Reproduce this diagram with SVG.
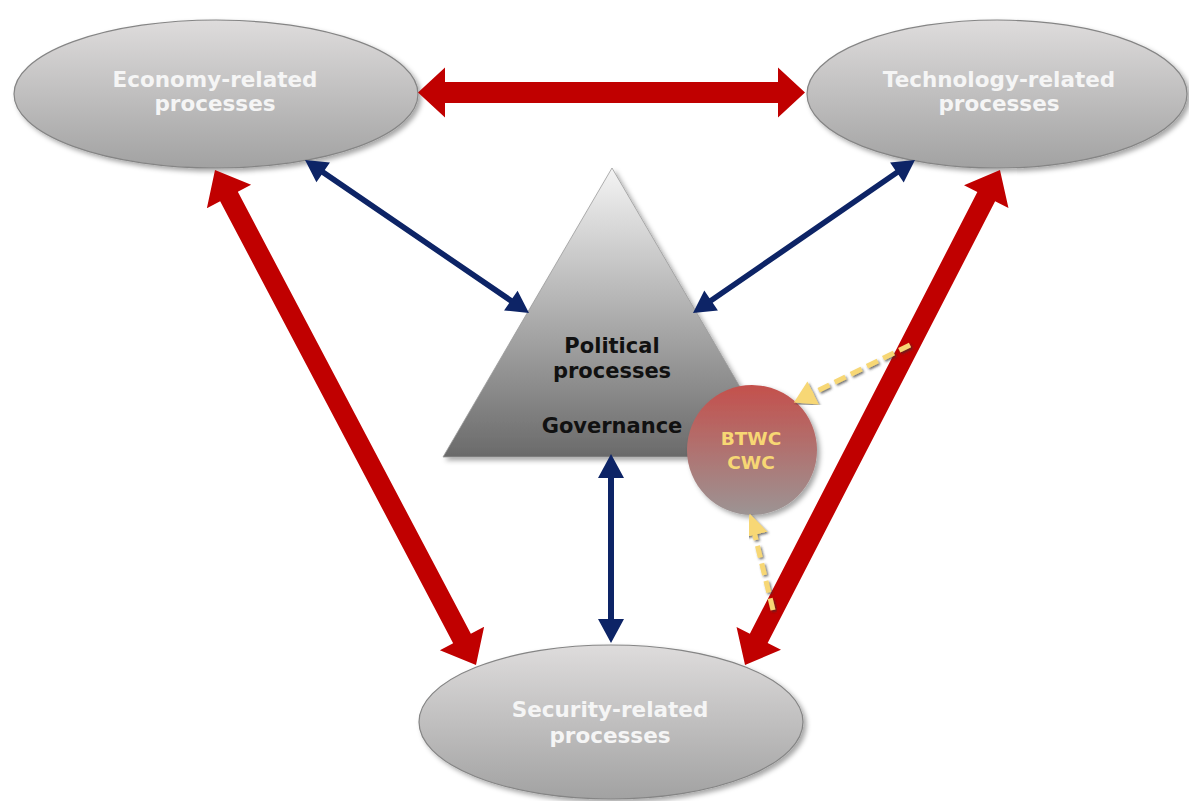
<svg xmlns="http://www.w3.org/2000/svg" width="1189" height="801" viewBox="0 0 1189 801">
<defs>
<linearGradient id="gEll" x1="0" y1="0" x2="0" y2="1">
<stop offset="0" stop-color="#dedcdc"/>
<stop offset="1" stop-color="#a2a2a2"/>
</linearGradient>
<linearGradient id="gTri" x1="0" y1="0" x2="0" y2="1">
<stop offset="0" stop-color="#f4f4f4"/>
<stop offset="1" stop-color="#6a6a6a"/>
</linearGradient>
<linearGradient id="gCirc" x1="0" y1="0" x2="0" y2="1">
<stop offset="0" stop-color="#c4504c"/>
<stop offset="1" stop-color="#9c9494"/>
</linearGradient>
<filter id="shadow" x="-10%" y="-10%" width="125%" height="130%">
<feDropShadow dx="3" dy="3" stdDeviation="2.5" flood-color="#000" flood-opacity="0.35"/>
</filter>
<filter id="ysh" x="-20%" y="-20%" width="140%" height="140%">
<feDropShadow dx="1.5" dy="1.5" stdDeviation="1" flood-color="#333" flood-opacity="0.7"/>
</filter>
<marker id="yhead" markerUnits="userSpaceOnUse" markerWidth="24" markerHeight="28" viewBox="0 -13 22 26" refX="4" refY="0" orient="auto">
<path d="M0,-12 L20,0 L0,12 z" fill="#f7d774"/>
</marker>
<style>
.ell{fill:url(#gEll);stroke:#858585;stroke-width:1.2;filter:url(#shadow)}
.lbl{font-family:"DejaVu Sans",Verdana,sans-serif;font-weight:bold;font-size:21.5px;fill:#f5f5f5;text-anchor:middle}
.blk{font-family:"DejaVu Sans",Verdana,sans-serif;font-weight:bold;font-size:21px;fill:#111;text-anchor:middle}
.ylw{font-family:"DejaVu Sans",Verdana,sans-serif;font-weight:bold;font-size:18.5px;fill:#f7d774;text-anchor:middle}
.red{fill:#c00000}
.blue{fill:#0d2466}
.dash{fill:none;stroke:#f7d774;stroke-width:5;stroke-dasharray:12 6;marker-end:url(#yhead);filter:url(#ysh)}
</style>
</defs>

<g id="node-economy">
<ellipse class="ell" cx="216" cy="94" rx="202" ry="74"/>
<text class="lbl" x="215" y="87">Economy-related</text>
<text class="lbl" x="215" y="111">processes</text>
</g>

<g id="node-technology">
<ellipse class="ell" cx="997" cy="94" rx="190" ry="74"/>
<text class="lbl" x="999" y="87">Technology-related</text>
<text class="lbl" x="999" y="111">processes</text>
</g>

<g id="node-security">
<ellipse class="ell" cx="611" cy="722" rx="192" ry="77"/>
<text class="lbl" x="610" y="717">Security-related</text>
<text class="lbl" x="610" y="743">processes</text>
</g>

<g id="node-political">
<polygon points="612,168 781,457 443,457" fill="url(#gTri)" stroke="#9a9a9a" stroke-width="0.8" filter="url(#shadow)"/>
<text class="blk" x="612" y="353">Political</text>
<text class="blk" x="612" y="378">processes</text>
<text class="blk" x="612" y="433">Governance</text>
</g>

<g id="connectors">
<polygon class="red" transform="translate(611.5,92.5)" points="-193.5,0 -166.5,-25 -166.5,-10.5 166.5,-10.5 166.5,-25 193.5,0 166.5,25 166.5,10.5 -166.5,10.5 -166.5,25"/>
<polygon class="red" transform="translate(345.5,417.5) rotate(62.2)" points="-279.8,0 -249.8,-25 -249.8,-10 249.8,-10 249.8,-25 279.8,0 249.8,25 249.8,10 -249.8,10 -249.8,25"/>
<polygon class="red" transform="translate(872.5,417.5) rotate(117.25)" points="-278.4,0 -248.4,-25 -248.4,-10 248.4,-10 248.4,-25 278.4,0 248.4,25 248.4,10 -248.4,10 -248.4,25"/>
<polygon class="blue" transform="translate(417,236.5) rotate(34.33)" points="-135.6,0 -113.6,-12 -113.6,-2.8 113.6,-2.8 113.6,-12 135.6,0 113.6,12 113.6,2.8 -113.6,2.8 -113.6,12"/>
<polygon class="blue" transform="translate(804,236.5) rotate(145.43)" points="-134.8,0 -112.8,-12 -112.8,-2.8 112.8,-2.8 112.8,-12 134.8,0 112.8,12 112.8,2.8 -112.8,2.8 -112.8,12"/>
<polygon class="blue" transform="translate(611,548.5) rotate(90)" points="-94.5,0 -70.5,-13 -70.5,-3 70.5,-3 70.5,-13 94.5,0 70.5,13 70.5,3 -70.5,3 -70.5,13"/>
</g>

<g id="node-btwc">
<circle cx="752" cy="450" r="65" fill="url(#gCirc)" filter="url(#shadow)"/>
<text class="ylw" x="751" y="445">BTWC</text>
<text class="ylw" x="751" y="469">CWC</text>
</g>

<g id="connectors-dashed">
<path class="dash" d="M910,345 L809.3,394.9"/>
<path class="dash" d="M773,610 L753.8,530.6"/>
</g>
</svg>
